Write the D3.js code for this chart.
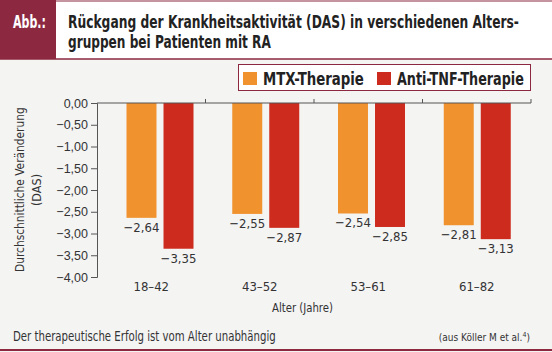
<!DOCTYPE html>
<html>
<head>
<meta charset="utf-8">
<script src="https://cdn.jsdelivr.net/npm/d3@7"></script>
<style>
  body { margin: 0; background: #f4f4f3; }
  svg { display: block; font-family: "DejaVu Sans Condensed", "Liberation Sans", sans-serif; }
</style>
</head>
<body>
<div id="chart"></div>
<script>
// data
var categories = ["18–42", "43–52", "53–61", "61–82"];
var seriesNames = ["MTX-Therapie", "Anti-TNF-Therapie"];
var mtxValues = [-2.64, -2.55, -2.54, -2.81];
var tnfValues = [-3.35, -2.87, -2.85, -3.13];
var yTicks = [0, -0.5, -1, -1.5, -2, -2.5, -3, -3.5, -4];

// the original uses a condensed face, so squeeze text horizontally to a width
// pre = transform put in front (for the rotated label)
function fit(sel, width, pre){
    var len = sel.node().getComputedTextLength();
    var k = width / len;
    var x = +sel.attr("x") || 0;
    sel.attr("transform", (pre || "") + " translate(" + x + ",0) scale(" + k + ",1) translate(" + (-x) + ",0)");
    return sel;
}

function init(){
    var w = 552, h = 352;
    var maroon = "#8c2941";
    var colors = ["#f0922e", "#cc2b1d"];
    var fmt = function(v){ return d3.format(".2f")(v).replace(".", ",").replace("-", "−"); };

    var svg = d3.select("#chart").append("svg")
        .attr("width", w).attr("height", h);

    // header
    svg.append("rect").attr("x", 0).attr("y", 0).attr("width", w).attr("height", 59).attr("fill", "#fff");
    svg.append("rect").attr("x", 0).attr("y", 0).attr("width", 56).attr("height", 59).attr("fill", maroon);
    svg.append("line").attr("x1", 0).attr("x2", w).attr("y1", 1).attr("y2", 1).attr("stroke", maroon).attr("stroke-width", 1);
    svg.append("line").attr("x1", 0).attr("x2", w).attr("y1", 59).attr("y2", 59).attr("stroke", maroon).attr("stroke-width", 1.5);
    fit(svg.append("text").attr("x", 13).attr("y", 28).attr("fill", "#fff")
        .attr("font-weight", "bold").attr("font-size", 18).text("Abb.:"), 33);
    fit(svg.append("text").attr("x", 68).attr("y", 28).attr("fill", "#222")
        .attr("font-weight", "bold").attr("font-size", 18.5)
        .text("Rückgang der Krankheitsaktivität (DAS) in verschiedenen Alters-"), 451);
    fit(svg.append("text").attr("x", 68).attr("y", 48).attr("fill", "#222")
        .attr("font-weight", "bold").attr("font-size", 18.5)
        .text("gruppen bei Patienten mit RA"), 203);

    // scales
    var y = d3.scaleLinear().domain([-4, 0]).range([277, 103]);
    var xAxisScale = d3.scaleBand().domain(categories).range([97, 531]);
    var x0 = d3.scaleBand().domain(categories).range([97, 531]).paddingInner(0).paddingOuter(0.052);
    var x1 = d3.scaleBand().domain(seriesNames).range([24, 91]).paddingInner(0.19);

    var rows = categories.map(function(c, i){
        return { cat: c, vals: [mtxValues[i], tnfValues[i]] };
    });

    // bars
    var groups = svg.selectAll("g.grp").data(rows).enter().append("g")
        .attr("class", "grp")
        .attr("transform", function(d){ return "translate(" + x0(d.cat) + ",0)"; });

    groups.selectAll("rect").data(function(d){ return d.vals.map(function(v, j){ return { s: seriesNames[j], v: v, j: j }; }); })
        .enter().append("rect")
        .attr("x", function(d){ return x1(d.s); })
        .attr("width", x1.bandwidth())
        .attr("y", y(0))
        .attr("height", function(d){ return y(d.v) - y(0); })
        .attr("fill", function(d){ return colors[d.j]; });

    groups.selectAll("text").data(function(d){ return d.vals.map(function(v, j){ return { s: seriesNames[j], v: v }; }); })
        .enter().append("text")
        .attr("x", function(d){ return x1(d.s) + x1.bandwidth() / 2; })
        .attr("y", function(d){ return y(d.v) + 14; })
        .attr("text-anchor", "middle")
        .attr("font-size", 13).attr("fill", "#333")
        .text(function(d){ return fmt(d.v); });

    // y axis
    var yAxis = svg.append("g").attr("transform", "translate(97,0)")
        .call(d3.axisLeft(y).tickValues(yTicks).tickSize(6).tickPadding(3).tickFormat(fmt));
    yAxis.select(".domain").attr("stroke", "#555");
    yAxis.selectAll(".tick line").attr("stroke", "#555");
    yAxis.selectAll("text").attr("font-family", null).attr("font-size", 12.5).attr("fill", "#333");

    // x axis on zero line, ticks upward at category borders
    svg.append("line").attr("x1", 97).attr("x2", 531).attr("y1", y(0)).attr("y2", y(0)).attr("stroke", "#555");
    var borders = categories.slice(1).map(function(c){ return xAxisScale(c); }).concat([531]);
    svg.selectAll("line.xt").data(borders).enter().append("line").attr("class", "xt")
        .attr("x1", function(d){ return d; }).attr("x2", function(d){ return d; })
        .attr("y1", y(0)).attr("y2", y(0) - 4).attr("stroke", "#555");

    svg.selectAll("text.cat").data(categories).enter().append("text").attr("class", "cat")
        .attr("x", function(d){ return xAxisScale(d) + xAxisScale.bandwidth() / 2; })
        .attr("y", 291).attr("text-anchor", "middle")
        .attr("font-size", 13).attr("fill", "#333").text(function(d){ return d; });

    fit(svg.append("text").attr("x", 272).attr("y", 312)
        .attr("font-size", 13).attr("fill", "#333").text("Alter (Jahre)"), 61);

    fit(svg.append("text").attr("x", -82).attr("y", 0)
        .attr("font-size", 12.5).attr("fill", "#333").text("Durchschnittliche Veränderung"),
        165, "translate(24,190) rotate(-90)");
    svg.append("text").attr("transform", "translate(41,190) rotate(-90)")
        .attr("text-anchor", "middle").attr("font-size", 12.5).attr("fill", "#333").text("(DAS)");

    // legend
    svg.append("rect").attr("x", 238.5).attr("y", 64.5).attr("width", 292).attr("height", 26)
        .attr("fill", "#fff").attr("stroke", maroon);
    var legX = [243, 377];
    var legW = [101, 127];
    var leg = svg.selectAll("g.leg").data(seriesNames).enter().append("g").attr("class", "leg")
        .attr("transform", function(d, i){ return "translate(" + legX[i] + ",71)"; });
    leg.append("rect").attr("y", 1).attr("width", 14).attr("height", 13).attr("fill", function(d, i){ return colors[i]; });
    leg.append("text").attr("x", 20).attr("y", 13.5).attr("font-weight", "bold")
        .attr("font-size", 17.5).attr("fill", "#222")
        .text(function(d){ return d; })
        .each(function(d, i){ fit(d3.select(this), legW[i]); });

    // footer
    fit(svg.append("text").attr("x", 13).attr("y", 341).attr("font-size", 13.5).attr("fill", "#333")
        .text("Der therapeutische Erfolg ist vom Alter unabhängig"), 263);
    var src = svg.append("text").attr("x", 530).attr("y", 341).attr("text-anchor", "end")
        .attr("font-size", 10).attr("fill", "#333");
    src.append("tspan").text("(aus Köller M et al.");
    src.append("tspan").attr("font-size", 7).attr("dy", -4).text("4");
    src.append("tspan").attr("dy", 4).text(")");
    svg.append("line").attr("x1", 0).attr("x2", w).attr("y1", 350).attr("y2", 350).attr("stroke", maroon).attr("stroke-width", 2);
}
window.onload = init;
</script>
</body>
</html>
